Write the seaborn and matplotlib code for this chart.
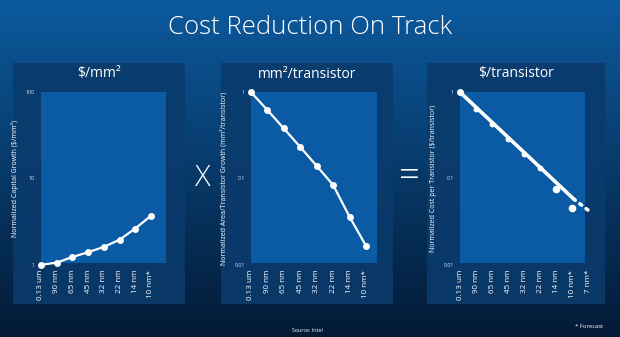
import numpy as np
import matplotlib
matplotlib.use("Agg")
import matplotlib.pyplot as plt
import seaborn as sns
from matplotlib.patches import Rectangle

sns.set_theme(style="white")
plt.rcParams['font.family'] = ['Open Sans', 'DejaVu Sans']

# ---- data ----
nodes = ["0.13 um", "90 nm", "65 nm", "45 nm", "32 nm", "22 nm", "14 nm", "10 nm*"]
nodes3 = nodes + ["7 nm*"]
cost_per_mm2 = [1.0, 1.06, 1.23, 1.40, 1.61, 1.95, 2.63, 3.69]
area_per_tr = [1.0, 0.62, 0.38, 0.231, 0.14, 0.084, 0.036, 0.0166]
cost_per_tr = [1.0, 0.636, 0.423, 0.284, 0.19, 0.131, 0.075, 0.045]
trend_x = [0, 7.1]
trend_y = [1.0, 0.058]
trend_fc_x = [7.1, 8.0]
trend_fc_y = [0.058, 0.043]

W, H = 620, 337
fig = plt.figure(figsize=(W / 100, H / 100), dpi=100)

def fx(x):
    return x / W

def fy(y):
    return 1 - y / H

# background gradient
bg = fig.add_axes([0, 0, 1, 1], zorder=-5)
top = np.array([0x0c, 0x5a, 0x9e]) / 255
bot = np.array([0x03, 0x1a, 0x36]) / 255
t = np.linspace(0, 1, 256)[:, None]
grad = top[None, :] * (1 - t) + bot[None, :] * t
grad = np.repeat(grad[:, None, :], 4, axis=1)
bg.imshow(grad, aspect="auto", extent=[0, 1, 0, 1], origin="upper")
bg.set_xlim(0, 1)
bg.set_ylim(0, 1)
bg.axis("off")

panel_col = "#0a3b6c"
light_col = "#0b5aa4"
for (x0, x1) in [(13, 185), (221, 393), (427, 605)]:
    bg.add_patch(Rectangle((fx(x0), fy(304)), fx(x1) - fx(x0), fy(63) - fy(304),
                           transform=fig.transFigure, facecolor=panel_col,
                           edgecolor="none", alpha=0.9))

fig.text(0.5, fy(28), "Cost Reduction On Track", ha="center", va="center",
         color="white", fontsize=18.5, fontweight="light")

def make_ax(left, right, xmax, light_right=None):
    ax = fig.add_axes([fx(left), fy(265), fx(right) - fx(left), fy(92) - fy(265)])
    ax.set_facecolor("none")
    for s in ax.spines.values():
        s.set_visible(False)
    lw = 1.0 if light_right is None else (light_right - left) / (right - left)
    ax.add_patch(Rectangle((0, 0.01), lw, 0.99, transform=ax.transAxes,
                           facecolor=light_col, edgecolor="none", zorder=0))
    ax.set_xlim(0, xmax)
    ax.set_yscale("log")
    ax.tick_params(axis="both", length=0)
    ax.tick_params(axis="x", pad=3.5, labelsize=5.8, colors="white", labelrotation=90)
    ax.tick_params(axis="y", pad=4.5, labelsize=3.8, colors="#d8e2ee")
    ax.minorticks_off()
    ax.grid(False)
    return ax

line_kw = dict(color="white", linewidth=1.6, marker="o", markersize=5,
               markeredgewidth=0, clip_on=False, legend=False)

# panel 1
ax1 = make_ax(41, 166, 7.96)
sns.lineplot(x=np.arange(len(nodes)), y=cost_per_mm2, ax=ax1, **line_kw)
ax1.set_ylim(0.995, 100)
ax1.set_yticks([1, 10, 100], ["1", "10", "100"])
ax1.set_xticks(np.arange(len(nodes)), nodes)
ax1.set_ylabel("Normalized Capital Growth ($/mm²)", fontsize=5, color="white")
ax1.yaxis.set_label_coords(-0.176, 0.5)

# panel 2
ax2 = make_ax(251, 377, 7.67)
sns.lineplot(x=np.arange(len(nodes)), y=area_per_tr, ax=ax2, **line_kw)
ax2.set_ylim(0.00995, 1.005)
ax2.set_yticks([0.01, 0.1, 1], ["0.01", "0.1", "1"])
ax2.set_xticks(np.arange(len(nodes)), nodes)
ax2.set_ylabel("Normalized Area/Transistor Growth (mm²/transistor)", fontsize=5, color="white")
ax2.yaxis.set_label_coords(-0.183, 0.5)

# panel 3
ax3 = make_ax(460, 592, 8.25, light_right=585)
sns.lineplot(x=trend_x, y=trend_y, ax=ax3, color="white", linewidth=2.6,
             clip_on=False, legend=False)
ax3.plot(trend_fc_x, trend_fc_y, color="white", linewidth=2.6,
         linestyle=(0, (0.6, 1.6)), dash_capstyle="round", clip_on=False)
sizes = [5, 4.2, 4.2, 4.2, 4.2, 4.2, 5.5, 5.5]
for i, (v, s) in enumerate(zip(cost_per_tr, sizes)):
    ax3.plot([i], [v], marker="o", markersize=s, color="white",
             markeredgewidth=0, clip_on=False, linestyle="none")
ax3.set_ylim(0.00995, 1.005)
ax3.set_yticks([0.01, 0.1, 1], ["0.01", "0.1", "1"])
ax3.set_xticks(np.arange(len(nodes3)), nodes3)
ax3.set_ylabel("Normalized Cost per Transistor ($/transistor)", fontsize=5, color="white")
ax3.yaxis.set_label_coords(-0.174, 0.5)

# panel titles
fig.text(fx(99), fy(74), "$/mm²", ha="center", va="center", color="white", fontsize=10)
fig.text(fx(307), fy(74), "mm²/transistor", ha="center", va="center", color="white", fontsize=10)
fig.text(fx(516), fy(74), "$/transistor", ha="center", va="center", color="white", fontsize=10)

fig.text(fx(203), fy(178), "X", ha="center", va="center", color="white", fontsize=21, fontweight="light")
fig.text(fx(409), fy(178), "=", ha="center", va="center", color="white", fontsize=26, fontweight="light")

fig.text(fx(307), fy(331), "Source: Intel", ha="center", va="center", color="white", fontsize=3.8)
fig.text(fx(603), fy(327), "* Forecast", ha="right", va="center", color="white", fontsize=4.2)

fig.savefig("out.png", dpi=100)
